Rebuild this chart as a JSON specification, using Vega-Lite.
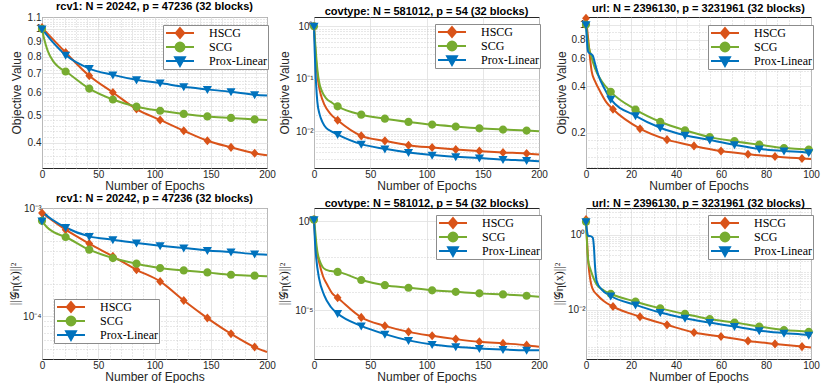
{
"$schema": "https://vega.github.io/schema/vega-lite/v6.json",
"background": "white",
"padding": {"left": 7, "top": 0, "right": 0, "bottom": 0},
"config": {
  "view": {"stroke": "#262626", "strokeWidth": 1},
  "axis": {"labelFont": "Liberation Sans", "labelFontSize": 10, "labelColor": "#262626", "titleFont": "Liberation Sans", "titleFontSize": 12, "titleFontWeight": "normal", "titleColor": "#262626", "domain": false, "ticks": false, "grid": true, "gridColor": "#e0e0e0", "gridWidth": 0.8, "labelFlush": false, "labelOverlap": false, "labelPadding": 1},
  "axisX": {"titlePadding": 1},
  "axisY": {"minExtent": 14, "maxExtent": 14},
  "title": {"font": "Liberation Sans", "fontSize": 11, "fontWeight": "bold", "color": "black", "anchor": "middle"},
  "legend": {"labelFont": "Liberation Serif", "labelFontSize": 12, "labelColor": "black", "fillColor": "white", "strokeColor": "#8c8c8c", "padding": 1, "symbolSize": 87, "symbolStrokeWidth": 2, "symbolOffset": 10, "rowPadding": 0, "labelOffset": 23, "title": null, "clipHeight": 14}
},
"concat": [
{
 "title": {"text": "rcv1: N = 20242, p = 47236 (32 blocks)", "offset": 0},
 "width": 225, "height": 151,
 "data": {"name": "d"},
 "layer": [
  {"transform": [{"filter": "datum.p === 'r1'"}],
   "mark": {"type": "line", "interpolate": "monotone", "strokeWidth": 2},
   "encoding": {
    "x": {"field": "x", "type": "quantitative", "scale": {"domain": [0, 200], "nice": false}, "axis": {"values": [0, 50, 100, 150, 200], "title": "Number of Epochs"}},
    "y": {"field": "v", "type": "quantitative", "scale": {"type": "log", "domain": [0.327, 1.1], "nice": false}, "axis": {"values": [0.4, 0.5, 0.6, 0.7, 0.8, 0.9, 1, 1.1], "format": "~g", "title": "Objective Value", "titlePadding": 5}},
    "color": {"field": "s", "type": "nominal", "scale": {"domain": ["HSCG", "SCG", "Prox-Linear"], "range": ["#D95319", "#77AC30", "#0072BD"]}, "legend": {"orient": "none", "legendX": 121, "legendY": 8}}
   }},
  {"transform": [{"filter": "datum.p === 'r1' && datum.x % 21 === 0 && datum.x < 200"}],
   "mark": {"type": "point", "filled": true, "size": 75, "opacity": 1},
   "encoding": {
    "x": {"field": "x", "type": "quantitative", "scale": {"domain": [0, 200], "nice": false}, "axis": {"orient": "top", "values": [10,20,30,40,60,70,80,90,110,120,130,140,160,170,180,190], "grid": true, "gridDash": [1, 2], "gridColor": "#c4c4c4", "labels": false, "ticks": false, "domain": false, "title": null, "minExtent": 0, "maxExtent": 0}},
    "y": {"field": "v", "type": "quantitative", "scale": {"type": "log", "domain": [0.327, 1.1], "nice": false}, "axis": {"orient": "right", "values": [0.34,0.36,0.38,0.42,0.44,0.46,0.48,0.52,0.54,0.56,0.58,0.62,0.64,0.66,0.68,0.72,0.74,0.76,0.78,0.82,0.84,0.86,0.88,0.92,0.94,0.96,0.98,1.02,1.04,1.06,1.08], "grid": true, "gridDash": [1, 2], "gridColor": "#c4c4c4", "labels": false, "ticks": false, "domain": false, "title": null, "minExtent": 0, "maxExtent": 0}},
    "color": {"field": "s", "type": "nominal", "scale": {"domain": ["HSCG", "SCG", "Prox-Linear"], "range": ["#D95319", "#77AC30", "#0072BD"]}, "legend": null},
    "shape": {"field": "s", "type": "nominal", "scale": {"domain": ["HSCG", "SCG", "Prox-Linear"], "range": ["M-3,0H3M0,-1.05L0.9,0L0,1.05L-0.9,0Z", "M-3,0H3M-0.95,0A0.95,0.95,0,1,0,0.95,0A0.95,0.95,0,1,0,-0.95,0Z", "M-3,0H3M-1.05,-0.8H1.05L0,1.05Z"]}, "legend": null}
   }}
 ],
 "resolve": {"axis": {"x": "independent", "y": "independent"}}
},
{
 "title": {"text": "covtype: N = 581012, p = 54 (32 blocks)", "offset": 0},
 "width": 225, "height": 151,
 "data": {"name": "d"},
 "layer": [
  {"transform": [{"filter": "datum.p === 'c1'"}],
   "mark": {"type": "line", "interpolate": "monotone", "strokeWidth": 2},
   "encoding": {
    "x": {"field": "x", "type": "quantitative", "scale": {"domain": [0, 200], "nice": false}, "axis": {"values": [0, 50, 100, 150, 200], "title": "Number of Epochs"}},
    "y": {"field": "v", "type": "quantitative", "scale": {"type": "log", "domain": [0.002, 1.5], "nice": false}, "axis": {"values": [0.01, 0.1, 1], "labelExpr": "datum.value > 0.5 ? '10⁰' : datum.value > 0.05 ? '10⁻¹' : '10⁻²'", "title": "Objective Value", "titlePadding": 9}},
    "color": {"field": "s", "type": "nominal", "scale": {"domain": ["HSCG", "SCG", "Prox-Linear"], "range": ["#D95319", "#77AC30", "#0072BD"]}, "legend": {"orient": "none", "legendX": 121, "legendY": 7}}
   }},
  {"transform": [{"filter": "datum.p === 'c1' && datum.x % 21 === 0 && datum.x < 200"}],
   "mark": {"type": "point", "filled": true, "size": 75, "opacity": 1},
   "encoding": {
    "x": {"field": "x", "type": "quantitative", "scale": {"domain": [0, 200], "nice": false}, "axis": null},
    "y": {"field": "v", "type": "quantitative", "scale": {"type": "log", "domain": [0.002, 1.5], "nice": false}, "axis": {"orient": "right", "values": [0.003,0.004,0.005,0.006,0.007,0.008,0.009,0.02,0.03,0.04,0.05,0.06,0.07,0.08,0.09,0.2,0.3,0.4,0.5,0.6,0.7,0.8,0.9], "grid": true, "gridDash": [1, 2], "gridColor": "#c4c4c4", "labels": false, "ticks": false, "domain": false, "title": null, "minExtent": 0, "maxExtent": 0}},
    "color": {"field": "s", "type": "nominal", "scale": {"domain": ["HSCG", "SCG", "Prox-Linear"], "range": ["#D95319", "#77AC30", "#0072BD"]}, "legend": null},
    "shape": {"field": "s", "type": "nominal", "scale": {"domain": ["HSCG", "SCG", "Prox-Linear"], "range": ["M-3,0H3M0,-1.05L0.9,0L0,1.05L-0.9,0Z", "M-3,0H3M-0.95,0A0.95,0.95,0,1,0,0.95,0A0.95,0.95,0,1,0,-0.95,0Z", "M-3,0H3M-1.05,-0.8H1.05L0,1.05Z"]}, "legend": null}
   }}
 ],
 "resolve": {"axis": {"x": "independent", "y": "independent"}}
},
{
 "title": {"text": "url: N = 2396130, p = 3231961 (32 blocks)", "offset": 0},
 "width": 225, "height": 151,
 "data": {"name": "d"},
 "layer": [
  {"transform": [{"filter": "datum.p === 'u1'"}],
   "mark": {"type": "line", "interpolate": "monotone", "strokeWidth": 2},
   "encoding": {
    "x": {"field": "x", "type": "quantitative", "scale": {"domain": [0, 100], "nice": false}, "axis": {"values": [0, 20, 40, 60, 80, 100], "title": "Number of Epochs"}},
    "y": {"field": "v", "type": "quantitative", "scale": {"type": "log", "domain": [0.118, 1.12], "nice": false}, "axis": {"values": [0.2, 0.4, 0.6, 0.8, 1], "format": "~g", "title": "Objective Value", "titlePadding": 4}},
    "color": {"field": "s", "type": "nominal", "scale": {"domain": ["HSCG", "SCG", "Prox-Linear"], "range": ["#D95319", "#77AC30", "#0072BD"]}, "legend": {"orient": "none", "legendX": 122, "legendY": 8}}
   }},
  {"transform": [{"filter": "datum.p === 'u1' && (datum.s === 'HSCG' ? datum.x % 12 === 0 && datum.x < 100 : datum.x % 11 === 0)"}],
   "mark": {"type": "point", "filled": true, "size": 75, "opacity": 1},
   "encoding": {
    "x": {"field": "x", "type": "quantitative", "scale": {"domain": [0, 100], "nice": false}, "axis": {"orient": "top", "values": [5,10,15,25,30,35,45,50,55,65,70,75,85,90,95], "grid": true, "gridDash": [1, 2], "gridColor": "#c4c4c4", "labels": false, "ticks": false, "domain": false, "title": null, "minExtent": 0, "maxExtent": 0}},
    "y": {"field": "v", "type": "quantitative", "scale": {"type": "log", "domain": [0.118, 1.12], "nice": false}, "axis": {"orient": "right", "values": [0.12,0.14,0.16,0.18,0.3,0.5,0.7,0.9], "grid": true, "gridDash": [1, 2], "gridColor": "#c4c4c4", "labels": false, "ticks": false, "domain": false, "title": null, "minExtent": 0, "maxExtent": 0}},
    "color": {"field": "s", "type": "nominal", "scale": {"domain": ["HSCG", "SCG", "Prox-Linear"], "range": ["#D95319", "#77AC30", "#0072BD"]}, "legend": null},
    "shape": {"field": "s", "type": "nominal", "scale": {"domain": ["HSCG", "SCG", "Prox-Linear"], "range": ["M-3,0H3M0,-1.05L0.9,0L0,1.05L-0.9,0Z", "M-3,0H3M-0.95,0A0.95,0.95,0,1,0,0.95,0A0.95,0.95,0,1,0,-0.95,0Z", "M-3,0H3M-1.05,-0.8H1.05L0,1.05Z"]}, "legend": null}
   }}
 ],
 "resolve": {"axis": {"x": "independent", "y": "independent"}}
},
{
 "title": {"text": "rcv1: N = 20242, p = 47236 (32 blocks)", "offset": 0, "dy": 1},
 "width": 225, "height": 151,
 "data": {"name": "d"},
 "layer": [
  {"transform": [{"filter": "datum.p === 'r2'"}],
   "mark": {"type": "line", "interpolate": "monotone", "strokeWidth": 2},
   "encoding": {
    "x": {"field": "x", "type": "quantitative", "scale": {"domain": [0, 200], "nice": false}, "axis": {"values": [0, 50, 100, 150, 200], "title": "Number of Epochs"}},
    "y": {"field": "v", "type": "quantitative", "scale": {"type": "log", "domain": [0.00004, 0.001], "nice": false}, "axis": {"values": [0.0001, 0.001], "labelExpr": "datum.value > 0.0005 ? '10⁻³' : '10⁻⁴'", "title": "||𝒢η(x)||²", "titleFont": "Liberation Serif", "titlePadding": 7}},
    "color": {"field": "s", "type": "nominal", "scale": {"domain": ["HSCG", "SCG", "Prox-Linear"], "range": ["#D95319", "#77AC30", "#0072BD"]}, "legend": {"orient": "none", "legendX": 12, "legendY": 91}}
   }},
  {"transform": [{"filter": "datum.p === 'r2' && datum.x % 21 === 0 && datum.x < 200"}],
   "mark": {"type": "point", "filled": true, "size": 75, "opacity": 1},
   "encoding": {
    "x": {"field": "x", "type": "quantitative", "scale": {"domain": [0, 200], "nice": false}, "axis": {"orient": "top", "values": [10,20,30,40,60,70,80,90,110,120,130,140,160,170,180,190], "grid": true, "gridDash": [1, 2], "gridColor": "#c4c4c4", "labels": false, "ticks": false, "domain": false, "title": null, "minExtent": 0, "maxExtent": 0}},
    "y": {"field": "v", "type": "quantitative", "scale": {"type": "log", "domain": [0.00004, 0.001], "nice": false}, "axis": {"orient": "right", "values": [0.00005,0.00006,0.00007,0.00008,0.00009,0.0002,0.0003,0.0004,0.0005,0.0006,0.0007,0.0008,0.0009], "grid": true, "gridDash": [1, 2], "gridColor": "#c4c4c4", "labels": false, "ticks": false, "domain": false, "title": null, "minExtent": 0, "maxExtent": 0}},
    "color": {"field": "s", "type": "nominal", "scale": {"domain": ["HSCG", "SCG", "Prox-Linear"], "range": ["#D95319", "#77AC30", "#0072BD"]}, "legend": null},
    "shape": {"field": "s", "type": "nominal", "scale": {"domain": ["HSCG", "SCG", "Prox-Linear"], "range": ["M-3,0H3M0,-1.05L0.9,0L0,1.05L-0.9,0Z", "M-3,0H3M-0.95,0A0.95,0.95,0,1,0,0.95,0A0.95,0.95,0,1,0,-0.95,0Z", "M-3,0H3M-1.05,-0.8H1.05L0,1.05Z"]}, "legend": null}
   }}
 ],
 "resolve": {"axis": {"x": "independent", "y": "independent"}}
},
{
 "title": {"text": "covtype: N = 581012, p = 54 (32 blocks)", "offset": 0, "dy": 1},
 "width": 225, "height": 151,
 "data": {"name": "d"},
 "layer": [
  {"transform": [{"filter": "datum.p === 'c2'"}],
   "mark": {"type": "line", "interpolate": "monotone", "strokeWidth": 2},
   "encoding": {
    "x": {"field": "x", "type": "quantitative", "scale": {"domain": [0, 200], "nice": false}, "axis": {"values": [0, 50, 100, 150, 200], "title": "Number of Epochs"}},
    "y": {"field": "v", "type": "quantitative", "scale": {"type": "log", "domain": [1.8e-8, 5.4], "nice": false}, "axis": {"values": [0.00001, 1], "labelExpr": "datum.value > 0.1 ? '10⁰' : '10⁻⁵'", "title": "||𝒢η(x)||²", "titleFont": "Liberation Serif", "titlePadding": 10}},
    "color": {"field": "s", "type": "nominal", "scale": {"domain": ["HSCG", "SCG", "Prox-Linear"], "range": ["#D95319", "#77AC30", "#0072BD"]}, "legend": {"orient": "none", "legendX": 122, "legendY": 7}}
   }},
  {"transform": [{"filter": "datum.p === 'c2' && datum.x % 21 === 0 && datum.x < 200"}],
   "mark": {"type": "point", "filled": true, "size": 75, "opacity": 1},
   "encoding": {
    "x": {"field": "x", "type": "quantitative", "scale": {"domain": [0, 200], "nice": false}, "axis": null},
    "y": {"field": "v", "type": "quantitative", "scale": {"type": "log", "domain": [1.8e-8, 5.4], "nice": false}, "axis": {"orient": "right", "values": [1e-7, 1e-6, 0.0001, 0.001, 0.01, 0.1], "grid": true, "gridDash": [1, 2], "gridColor": "#c4c4c4", "labels": false, "ticks": false, "domain": false, "title": null, "minExtent": 0, "maxExtent": 0}},
    "color": {"field": "s", "type": "nominal", "scale": {"domain": ["HSCG", "SCG", "Prox-Linear"], "range": ["#D95319", "#77AC30", "#0072BD"]}, "legend": null},
    "shape": {"field": "s", "type": "nominal", "scale": {"domain": ["HSCG", "SCG", "Prox-Linear"], "range": ["M-3,0H3M0,-1.05L0.9,0L0,1.05L-0.9,0Z", "M-3,0H3M-0.95,0A0.95,0.95,0,1,0,0.95,0A0.95,0.95,0,1,0,-0.95,0Z", "M-3,0H3M-1.05,-0.8H1.05L0,1.05Z"]}, "legend": null}
   }}
 ],
 "resolve": {"axis": {"x": "independent", "y": "independent"}}
},
{
 "title": {"text": "url: N = 2396130, p = 3231961 (32 blocks)", "offset": 0, "dy": 1},
 "width": 225, "height": 151,
 "data": {"name": "d"},
 "layer": [
  {"transform": [{"filter": "datum.p === 'u2'"}],
   "mark": {"type": "line", "interpolate": "monotone", "strokeWidth": 2},
   "encoding": {
    "x": {"field": "x", "type": "quantitative", "scale": {"domain": [0, 100], "nice": false}, "axis": {"values": [0, 20, 40, 60, 80, 100], "title": "Number of Epochs"}},
    "y": {"field": "v", "type": "quantitative", "scale": {"type": "log", "domain": [0.00049, 5.25], "nice": false}, "axis": {"values": [0.01, 1], "labelExpr": "datum.value > 0.1 ? '10⁰' : '10⁻²'", "title": "||𝒢η(x)||²", "titleFont": "Liberation Serif", "titlePadding": 7}},
    "color": {"field": "s", "type": "nominal", "scale": {"domain": ["HSCG", "SCG", "Prox-Linear"], "range": ["#D95319", "#77AC30", "#0072BD"]}, "legend": {"orient": "none", "legendX": 122, "legendY": 7}}
   }},
  {"transform": [{"filter": "datum.p === 'u2' && (datum.s === 'HSCG' ? datum.x % 12 === 0 && datum.x < 100 : datum.x % 11 === 0)"}],
   "mark": {"type": "point", "filled": true, "size": 75, "opacity": 1},
   "encoding": {
    "x": {"field": "x", "type": "quantitative", "scale": {"domain": [0, 100], "nice": false}, "axis": {"orient": "top", "values": [5,10,15,25,30,35,45,50,55,65,70,75,85,90,95], "grid": true, "gridDash": [1, 2], "gridColor": "#c4c4c4", "labels": false, "ticks": false, "domain": false, "title": null, "minExtent": 0, "maxExtent": 0}},
    "y": {"field": "v", "type": "quantitative", "scale": {"type": "log", "domain": [0.00049, 5.25], "nice": false}, "axis": {"orient": "right", "values": [0.0006,0.0007,0.0008,0.0009,0.001,0.002,0.003,0.004,0.005,0.006,0.007,0.008,0.009,0.02,0.03,0.04,0.05,0.06,0.07,0.08,0.09,0.1,0.2,0.3,0.4,0.5,0.6,0.7,0.8,0.9,2,3,4,5], "grid": true, "gridDash": [1, 2], "gridColor": "#c4c4c4", "labels": false, "ticks": false, "domain": false, "title": null, "minExtent": 0, "maxExtent": 0}},
    "color": {"field": "s", "type": "nominal", "scale": {"domain": ["HSCG", "SCG", "Prox-Linear"], "range": ["#D95319", "#77AC30", "#0072BD"]}, "legend": null},
    "shape": {"field": "s", "type": "nominal", "scale": {"domain": ["HSCG", "SCG", "Prox-Linear"], "range": ["M-3,0H3M0,-1.05L0.9,0L0,1.05L-0.9,0Z", "M-3,0H3M-0.95,0A0.95,0.95,0,1,0,0.95,0A0.95,0.95,0,1,0,-0.95,0Z", "M-3,0H3M-1.05,-0.8H1.05L0,1.05Z"]}, "legend": null}
   }}
 ],
 "resolve": {"axis": {"x": "independent", "y": "independent"}}
}
],
"columns": 3,
"spacing": {"row": 40, "column": 47},
"bounds": "flush",
"resolve": {"scale": {"color": "independent", "shape": "independent"}, "legend": {"color": "independent", "shape": "independent"}},
"datasets": {
"d": [
{"p":"r1","s":"HSCG","x":0,"v":1.01},{"p":"r1","s":"HSCG","x":21,"v":0.827},{"p":"r1","s":"HSCG","x":42,"v":0.686},{"p":"r1","s":"HSCG","x":63,"v":0.6},{"p":"r1","s":"HSCG","x":84,"v":0.525},{"p":"r1","s":"HSCG","x":105,"v":0.481},{"p":"r1","s":"HSCG","x":126,"v":0.441},{"p":"r1","s":"HSCG","x":147,"v":0.407},{"p":"r1","s":"HSCG","x":168,"v":0.386},{"p":"r1","s":"HSCG","x":189,"v":0.368},{"p":"r1","s":"HSCG","x":200,"v":0.362},
{"p":"r1","s":"SCG","x":0,"v":1.0},{"p":"r1","s":"SCG","x":2,"v":0.92},{"p":"r1","s":"SCG","x":5,"v":0.84},{"p":"r1","s":"SCG","x":10,"v":0.77},{"p":"r1","s":"SCG","x":15,"v":0.735},{"p":"r1","s":"SCG","x":21,"v":0.71},{"p":"r1","s":"SCG","x":42,"v":0.619},{"p":"r1","s":"SCG","x":63,"v":0.567},{"p":"r1","s":"SCG","x":84,"v":0.535},{"p":"r1","s":"SCG","x":105,"v":0.518},{"p":"r1","s":"SCG","x":126,"v":0.505},{"p":"r1","s":"SCG","x":147,"v":0.495},{"p":"r1","s":"SCG","x":168,"v":0.489},{"p":"r1","s":"SCG","x":189,"v":0.483},{"p":"r1","s":"SCG","x":200,"v":0.481},
{"p":"r1","s":"Prox-Linear","x":0,"v":1.0},{"p":"r1","s":"Prox-Linear","x":10,"v":0.895},{"p":"r1","s":"Prox-Linear","x":21,"v":0.81},{"p":"r1","s":"Prox-Linear","x":42,"v":0.727},{"p":"r1","s":"Prox-Linear","x":63,"v":0.691},{"p":"r1","s":"Prox-Linear","x":84,"v":0.664},{"p":"r1","s":"Prox-Linear","x":105,"v":0.647},{"p":"r1","s":"Prox-Linear","x":126,"v":0.628},{"p":"r1","s":"Prox-Linear","x":147,"v":0.615},{"p":"r1","s":"Prox-Linear","x":168,"v":0.603},{"p":"r1","s":"Prox-Linear","x":189,"v":0.589},{"p":"r1","s":"Prox-Linear","x":200,"v":0.585},
{"p":"c1","s":"HSCG","x":0,"v":1},{"p":"c1","s":"HSCG","x":1,"v":0.4},{"p":"c1","s":"HSCG","x":2,"v":0.2},{"p":"c1","s":"HSCG","x":3,"v":0.12},{"p":"c1","s":"HSCG","x":4.5,"v":0.07},{"p":"c1","s":"HSCG","x":6,"v":0.05},{"p":"c1","s":"HSCG","x":9,"v":0.033},{"p":"c1","s":"HSCG","x":15,"v":0.021},{"p":"c1","s":"HSCG","x":21,"v":0.0162},{"p":"c1","s":"HSCG","x":42,"v":0.00818},{"p":"c1","s":"HSCG","x":63,"v":0.00657},{"p":"c1","s":"HSCG","x":84,"v":0.00544},{"p":"c1","s":"HSCG","x":105,"v":0.0049},{"p":"c1","s":"HSCG","x":126,"v":0.0045},{"p":"c1","s":"HSCG","x":147,"v":0.0042},{"p":"c1","s":"HSCG","x":168,"v":0.00395},{"p":"c1","s":"HSCG","x":189,"v":0.00378},{"p":"c1","s":"HSCG","x":200,"v":0.0036},
{"p":"c1","s":"SCG","x":0,"v":1},{"p":"c1","s":"SCG","x":1,"v":0.5},{"p":"c1","s":"SCG","x":2,"v":0.26},{"p":"c1","s":"SCG","x":3,"v":0.15},{"p":"c1","s":"SCG","x":4.5,"v":0.088},{"p":"c1","s":"SCG","x":7,"v":0.058},{"p":"c1","s":"SCG","x":11,"v":0.042},{"p":"c1","s":"SCG","x":16,"v":0.035},{"p":"c1","s":"SCG","x":21,"v":0.0299},{"p":"c1","s":"SCG","x":42,"v":0.0207},{"p":"c1","s":"SCG","x":63,"v":0.0174},{"p":"c1","s":"SCG","x":84,"v":0.0151},{"p":"c1","s":"SCG","x":105,"v":0.0134},{"p":"c1","s":"SCG","x":126,"v":0.0123},{"p":"c1","s":"SCG","x":147,"v":0.0114},{"p":"c1","s":"SCG","x":168,"v":0.0108},{"p":"c1","s":"SCG","x":189,"v":0.0103},{"p":"c1","s":"SCG","x":200,"v":0.01},
{"p":"c1","s":"Prox-Linear","x":0,"v":1},{"p":"c1","s":"Prox-Linear","x":0.5,"v":0.4},{"p":"c1","s":"Prox-Linear","x":1,"v":0.2},{"p":"c1","s":"Prox-Linear","x":2,"v":0.07},{"p":"c1","s":"Prox-Linear","x":3,"v":0.036},{"p":"c1","s":"Prox-Linear","x":5,"v":0.021},{"p":"c1","s":"Prox-Linear","x":7.5,"v":0.015},{"p":"c1","s":"Prox-Linear","x":11,"v":0.0115},{"p":"c1","s":"Prox-Linear","x":15,"v":0.0101},{"p":"c1","s":"Prox-Linear","x":21,"v":0.00867},{"p":"c1","s":"Prox-Linear","x":42,"v":0.0057},{"p":"c1","s":"Prox-Linear","x":63,"v":0.00463},{"p":"c1","s":"Prox-Linear","x":84,"v":0.00394},{"p":"c1","s":"Prox-Linear","x":105,"v":0.00352},{"p":"c1","s":"Prox-Linear","x":126,"v":0.00327},{"p":"c1","s":"Prox-Linear","x":147,"v":0.00309},{"p":"c1","s":"Prox-Linear","x":168,"v":0.0029},{"p":"c1","s":"Prox-Linear","x":189,"v":0.00278},{"p":"c1","s":"Prox-Linear","x":200,"v":0.0027},
{"p":"u1","s":"HSCG","x":0,"v":1.1},{"p":"u1","s":"HSCG","x":1,"v":0.8},{"p":"u1","s":"HSCG","x":2,"v":0.57},{"p":"u1","s":"HSCG","x":2.5,"v":0.5},{"p":"u1","s":"HSCG","x":4,"v":0.43},{"p":"u1","s":"HSCG","x":6,"v":0.376},{"p":"u1","s":"HSCG","x":9,"v":0.315},{"p":"u1","s":"HSCG","x":12,"v":0.283},{"p":"u1","s":"HSCG","x":24,"v":0.212},{"p":"u1","s":"HSCG","x":36,"v":0.18},{"p":"u1","s":"HSCG","x":48,"v":0.164},{"p":"u1","s":"HSCG","x":60,"v":0.152},{"p":"u1","s":"HSCG","x":72,"v":0.145},{"p":"u1","s":"HSCG","x":84,"v":0.14},{"p":"u1","s":"HSCG","x":96,"v":0.136},{"p":"u1","s":"HSCG","x":100,"v":0.135},
{"p":"u1","s":"SCG","x":0,"v":1.0},{"p":"u1","s":"SCG","x":1,"v":0.75},{"p":"u1","s":"SCG","x":2,"v":0.65},{"p":"u1","s":"SCG","x":4,"v":0.52},{"p":"u1","s":"SCG","x":7,"v":0.43},{"p":"u1","s":"SCG","x":11,"v":0.367},{"p":"u1","s":"SCG","x":22,"v":0.282},{"p":"u1","s":"SCG","x":33,"v":0.235},{"p":"u1","s":"SCG","x":44,"v":0.207},{"p":"u1","s":"SCG","x":55,"v":0.187},{"p":"u1","s":"SCG","x":66,"v":0.176},{"p":"u1","s":"SCG","x":77,"v":0.167},{"p":"u1","s":"SCG","x":88,"v":0.159},{"p":"u1","s":"SCG","x":99,"v":0.155},{"p":"u1","s":"SCG","x":100,"v":0.154},
{"p":"u1","s":"Prox-Linear","x":0,"v":1.0},{"p":"u1","s":"Prox-Linear","x":0.7,"v":0.7},{"p":"u1","s":"Prox-Linear","x":1,"v":0.665},{"p":"u1","s":"Prox-Linear","x":3,"v":0.63},{"p":"u1","s":"Prox-Linear","x":4,"v":0.56},{"p":"u1","s":"Prox-Linear","x":5.5,"v":0.47},{"p":"u1","s":"Prox-Linear","x":8,"v":0.39},{"p":"u1","s":"Prox-Linear","x":11,"v":0.329},{"p":"u1","s":"Prox-Linear","x":22,"v":0.257},{"p":"u1","s":"Prox-Linear","x":33,"v":0.215},{"p":"u1","s":"Prox-Linear","x":44,"v":0.192},{"p":"u1","s":"Prox-Linear","x":55,"v":0.179},{"p":"u1","s":"Prox-Linear","x":66,"v":0.167},{"p":"u1","s":"Prox-Linear","x":77,"v":0.157},{"p":"u1","s":"Prox-Linear","x":88,"v":0.152},{"p":"u1","s":"Prox-Linear","x":99,"v":0.148},{"p":"u1","s":"Prox-Linear","x":100,"v":0.147},
{"p":"r2","s":"HSCG","x":0,"v":0.0009},{"p":"r2","s":"HSCG","x":21,"v":0.00063},{"p":"r2","s":"HSCG","x":42,"v":0.000468},{"p":"r2","s":"HSCG","x":63,"v":0.000357},{"p":"r2","s":"HSCG","x":84,"v":0.000268},{"p":"r2","s":"HSCG","x":105,"v":0.000209},{"p":"r2","s":"HSCG","x":126,"v":0.000139},{"p":"r2","s":"HSCG","x":147,"v":0.0000957},{"p":"r2","s":"HSCG","x":168,"v":0.0000685},{"p":"r2","s":"HSCG","x":189,"v":0.0000516},{"p":"r2","s":"HSCG","x":200,"v":0.0000464},
{"p":"r2","s":"SCG","x":0,"v":0.00076},{"p":"r2","s":"SCG","x":4,"v":0.00067},{"p":"r2","s":"SCG","x":10,"v":0.0006},{"p":"r2","s":"SCG","x":21,"v":0.000539},{"p":"r2","s":"SCG","x":42,"v":0.000411},{"p":"r2","s":"SCG","x":63,"v":0.000344},{"p":"r2","s":"SCG","x":84,"v":0.000305},{"p":"r2","s":"SCG","x":105,"v":0.000278},{"p":"r2","s":"SCG","x":126,"v":0.000264},{"p":"r2","s":"SCG","x":147,"v":0.000253},{"p":"r2","s":"SCG","x":168,"v":0.000241},{"p":"r2","s":"SCG","x":189,"v":0.000236},{"p":"r2","s":"SCG","x":200,"v":0.000233},
{"p":"r2","s":"Prox-Linear","x":0,"v":0.00076},{"p":"r2","s":"Prox-Linear","x":2,"v":0.00089},{"p":"r2","s":"Prox-Linear","x":5,"v":0.00084},{"p":"r2","s":"Prox-Linear","x":10,"v":0.00077},{"p":"r2","s":"Prox-Linear","x":21,"v":0.00066},{"p":"r2","s":"Prox-Linear","x":42,"v":0.000546},{"p":"r2","s":"Prox-Linear","x":63,"v":0.000509},{"p":"r2","s":"Prox-Linear","x":84,"v":0.000475},{"p":"r2","s":"Prox-Linear","x":105,"v":0.000448},{"p":"r2","s":"Prox-Linear","x":126,"v":0.000426},{"p":"r2","s":"Prox-Linear","x":147,"v":0.000405},{"p":"r2","s":"Prox-Linear","x":168,"v":0.000392},{"p":"r2","s":"Prox-Linear","x":189,"v":0.000375},{"p":"r2","s":"Prox-Linear","x":200,"v":0.00037},
{"p":"c2","s":"HSCG","x":0,"v":1.2},{"p":"c2","s":"HSCG","x":1,"v":0.12},{"p":"c2","s":"HSCG","x":2,"v":0.03},{"p":"c2","s":"HSCG","x":4.5,"v":0.005},{"p":"c2","s":"HSCG","x":8,"v":0.0008},{"p":"c2","s":"HSCG","x":12,"v":0.00025},{"p":"c2","s":"HSCG","x":16,"v":0.00009},{"p":"c2","s":"HSCG","x":21,"v":0.000049},{"p":"c2","s":"HSCG","x":42,"v":0.0000039},{"p":"c2","s":"HSCG","x":63,"v":0.0000013},{"p":"c2","s":"HSCG","x":84,"v":6e-7},{"p":"c2","s":"HSCG","x":105,"v":3.6e-7},{"p":"c2","s":"HSCG","x":126,"v":2.35e-7},{"p":"c2","s":"HSCG","x":147,"v":1.66e-7},{"p":"c2","s":"HSCG","x":168,"v":1.35e-7},{"p":"c2","s":"HSCG","x":189,"v":1.08e-7},{"p":"c2","s":"HSCG","x":200,"v":8.7e-8},
{"p":"c2","s":"SCG","x":0,"v":1.2},{"p":"c2","s":"SCG","x":1,"v":0.3},{"p":"c2","s":"SCG","x":2,"v":0.06},{"p":"c2","s":"SCG","x":3,"v":0.019},{"p":"c2","s":"SCG","x":5,"v":0.006},{"p":"c2","s":"SCG","x":7.5,"v":0.0027},{"p":"c2","s":"SCG","x":11,"v":0.0018},{"p":"c2","s":"SCG","x":15,"v":0.00155},{"p":"c2","s":"SCG","x":21,"v":0.0014},{"p":"c2","s":"SCG","x":42,"v":0.00049},{"p":"c2","s":"SCG","x":63,"v":0.00025},{"p":"c2","s":"SCG","x":84,"v":0.00018},{"p":"c2","s":"SCG","x":105,"v":0.00013},{"p":"c2","s":"SCG","x":126,"v":0.000107},{"p":"c2","s":"SCG","x":147,"v":0.000087},{"p":"c2","s":"SCG","x":168,"v":0.000076},{"p":"c2","s":"SCG","x":189,"v":0.000064},{"p":"c2","s":"SCG","x":200,"v":0.000056},
{"p":"c2","s":"Prox-Linear","x":0,"v":1.2},{"p":"c2","s":"Prox-Linear","x":1,"v":0.05},{"p":"c2","s":"Prox-Linear","x":2,"v":0.008},{"p":"c2","s":"Prox-Linear","x":4.5,"v":0.0006},{"p":"c2","s":"Prox-Linear","x":9,"v":0.00007},{"p":"c2","s":"Prox-Linear","x":15,"v":0.000015},{"p":"c2","s":"Prox-Linear","x":21,"v":0.0000065},{"p":"c2","s":"Prox-Linear","x":42,"v":0.0000013},{"p":"c2","s":"Prox-Linear","x":63,"v":4.5e-7},{"p":"c2","s":"Prox-Linear","x":84,"v":2e-7},{"p":"c2","s":"Prox-Linear","x":105,"v":1.18e-7},{"p":"c2","s":"Prox-Linear","x":126,"v":8.7e-8},{"p":"c2","s":"Prox-Linear","x":147,"v":7.1e-8},{"p":"c2","s":"Prox-Linear","x":168,"v":6.2e-8},{"p":"c2","s":"Prox-Linear","x":189,"v":5.6e-8},{"p":"c2","s":"Prox-Linear","x":200,"v":5.5e-8},
{"p":"u2","s":"HSCG","x":0,"v":2.6},{"p":"u2","s":"HSCG","x":1,"v":0.19},{"p":"u2","s":"HSCG","x":2,"v":0.06},{"p":"u2","s":"HSCG","x":2.8,"v":0.038},{"p":"u2","s":"HSCG","x":5,"v":0.025},{"p":"u2","s":"HSCG","x":8,"v":0.017},{"p":"u2","s":"HSCG","x":12,"v":0.0123},{"p":"u2","s":"HSCG","x":24,"v":0.0066},{"p":"u2","s":"HSCG","x":36,"v":0.004},{"p":"u2","s":"HSCG","x":48,"v":0.0025},{"p":"u2","s":"HSCG","x":60,"v":0.00195},{"p":"u2","s":"HSCG","x":72,"v":0.00149},{"p":"u2","s":"HSCG","x":84,"v":0.00124},{"p":"u2","s":"HSCG","x":96,"v":0.00105},{"p":"u2","s":"HSCG","x":100,"v":0.001},
{"p":"u2","s":"SCG","x":0,"v":2.26},{"p":"u2","s":"SCG","x":1,"v":0.2},{"p":"u2","s":"SCG","x":2,"v":0.12},{"p":"u2","s":"SCG","x":3,"v":0.08},{"p":"u2","s":"SCG","x":4.8,"v":0.047},{"p":"u2","s":"SCG","x":8,"v":0.033},{"p":"u2","s":"SCG","x":11,"v":0.027},{"p":"u2","s":"SCG","x":22,"v":0.0166},{"p":"u2","s":"SCG","x":33,"v":0.011},{"p":"u2","s":"SCG","x":44,"v":0.0078},{"p":"u2","s":"SCG","x":55,"v":0.0057},{"p":"u2","s":"SCG","x":66,"v":0.0046},{"p":"u2","s":"SCG","x":77,"v":0.0036},{"p":"u2","s":"SCG","x":88,"v":0.0029},{"p":"u2","s":"SCG","x":99,"v":0.0026},{"p":"u2","s":"SCG","x":100,"v":0.00255},
{"p":"u2","s":"Prox-Linear","x":0,"v":2.26},{"p":"u2","s":"Prox-Linear","x":0.5,"v":1.2},{"p":"u2","s":"Prox-Linear","x":1,"v":0.95},{"p":"u2","s":"Prox-Linear","x":2,"v":0.93},{"p":"u2","s":"Prox-Linear","x":3,"v":0.85},{"p":"u2","s":"Prox-Linear","x":3.5,"v":0.5},{"p":"u2","s":"Prox-Linear","x":4,"v":0.15},{"p":"u2","s":"Prox-Linear","x":4.8,"v":0.057},{"p":"u2","s":"Prox-Linear","x":7,"v":0.035},{"p":"u2","s":"Prox-Linear","x":11,"v":0.0235},{"p":"u2","s":"Prox-Linear","x":22,"v":0.0136},{"p":"u2","s":"Prox-Linear","x":33,"v":0.0085},{"p":"u2","s":"Prox-Linear","x":44,"v":0.006},{"p":"u2","s":"Prox-Linear","x":55,"v":0.0046},{"p":"u2","s":"Prox-Linear","x":66,"v":0.0036},{"p":"u2","s":"Prox-Linear","x":77,"v":0.0028},{"p":"u2","s":"Prox-Linear","x":88,"v":0.0024},{"p":"u2","s":"Prox-Linear","x":99,"v":0.0021},{"p":"u2","s":"Prox-Linear","x":100,"v":0.00205}
]
}
}
